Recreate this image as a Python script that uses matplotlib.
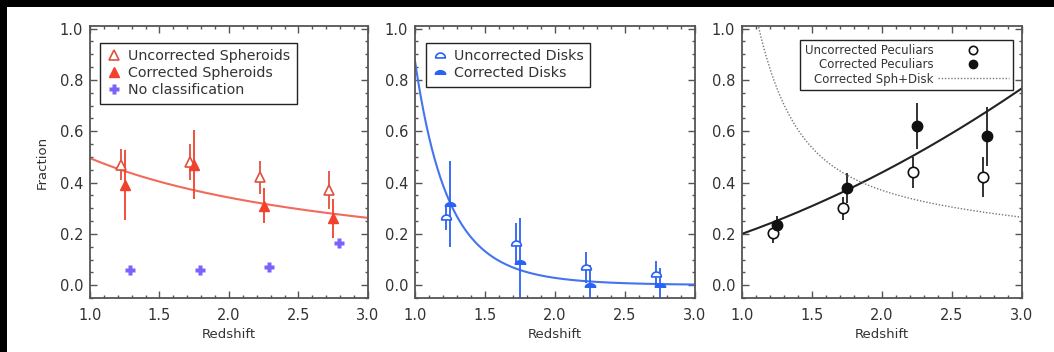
import matplotlib
matplotlib.use("Agg")
import matplotlib.pyplot as plt
import numpy as np
from matplotlib.patches import Rectangle
from matplotlib.path import Path

# redshift bins (each series is offset a little in z)
z_unc = [1.22, 1.72, 2.22, 2.72]
z_cor = [1.25, 1.75, 2.25, 2.75]
z_nocl = [1.29, 1.79, 2.29, 2.79]

# spheroids
sph_unc = [0.47, 0.48, 0.42, 0.37]
sph_unc_err = [0.06, 0.07, 0.065, 0.075]
sph_cor = [0.39, 0.47, 0.31, 0.26]
sph_cor_err = [0.135, 0.135, 0.067, 0.075]
no_class = [0.058, 0.061, 0.071, 0.165]

# disks
disk_unc = [0.264, 0.163, 0.069, 0.044]
disk_unc_err = [0.05, 0.08, 0.06, 0.05]
disk_cor = [0.315, 0.091, 0.0, 0.0]
disk_cor_err = [0.167, 0.17, 0.08, 0.065]

# peculiars
pec_unc = [0.204, 0.299, 0.44, 0.42]
pec_unc_err = [0.04, 0.045, 0.06, 0.078]
pec_cor = [0.234, 0.379, 0.62, 0.58]
pec_cor_err = [0.035, 0.06, 0.09, 0.115]

# power-law fits  f = norm * ((1+z)/2)**slope
sph_fit = (0.495, -0.916)
disk_fit = (0.873, -8.46)
pec_fit = (0.20, 1.94)

xticks = [1.0, 1.5, 2.0, 2.5, 3.0]
yticks = [0.0, 0.2, 0.4, 0.6, 0.8, 1.0]

RED = '#f3402c'
RED_OPEN = '#e0503e'
RED_LINE = '#f26a5c'
PURPLE = '#7a62fa'
BLUE = '#2a62f5'
BLUE_LINE = '#4474ee'
TXT = '#333333'
AXC = '#555555'


def powfit(z, p):
    return p[0] * ((1 + z) / 2.0) ** p[1]


def dome(flat=1.0):
    t = np.linspace(0, np.pi, 25)
    verts = np.column_stack([np.cos(t), flat * np.sin(t) - 0.5 * flat])
    verts = np.vstack([verts, verts[:1]])
    return Path(verts, closed=True)


plt.rcParams['font.family'] = 'DejaVu Sans'
plt.rcParams['text.color'] = TXT
plt.rcParams['axes.labelcolor'] = TXT
plt.rcParams['xtick.color'] = AXC
plt.rcParams['ytick.color'] = AXC
plt.rcParams['xtick.labelcolor'] = TXT
plt.rcParams['ytick.labelcolor'] = TXT

fig = plt.figure(figsize=(10.54, 3.52), dpi=100)
fig.patch.set_facecolor('black')
fig.add_artist(Rectangle((7 / 1054, 0), 1, 345 / 352, transform=fig.transFigure,
                         facecolor='white', edgecolor='none', zorder=-5))

W = 352.0
lefts = [90, 415, 742]
widths = [278, 280, 280]
axes = [fig.add_axes([l / 1054, 54 / W, w / 1054, 272 / W]) for l, w in zip(lefts, widths)]

zz = np.linspace(1.0, 3.0, 300)

for ax in axes:
    ax.set_xlim(1.0, 3.0)
    ax.set_ylim(-0.05, 1.01)
    ax.set_xticks(xticks)
    ax.set_yticks(yticks)
    ax.set_xticks(np.arange(1.0, 3.01, 0.1), minor=True)
    ax.set_yticks(np.arange(-0.05, 1.01, 0.05), minor=True)
    ax.set_xticklabels(['%.1f' % v for v in xticks])
    ax.set_yticklabels(['%.1f' % v for v in yticks])
    ax.tick_params(which='both', direction='in', top=True, right=True, labelsize=10.5)
    ax.tick_params(which='major', length=5, width=1)
    ax.tick_params(which='minor', length=2.5, width=1)
    ax.tick_params(axis='x', pad=7)
    ax.tick_params(axis='y', pad=5)
    for s in ax.spines.values():
        s.set_color(AXC)
        s.set_linewidth(1.3)
    ax.set_xlabel('Redshift', fontsize=9.5, labelpad=4)

legkw = dict(borderaxespad=0, handletextpad=0.4, fancybox=False, framealpha=1,
             edgecolor='#222222', numpoints=1)

# --- spheroids
ax = axes[0]
ax.plot(zz, powfit(zz, sph_fit), color=RED_LINE, lw=1.5)
ax.errorbar(z_unc, sph_unc, yerr=sph_unc_err, fmt='none', ecolor=RED_OPEN, elinewidth=1.3)
ax.errorbar(z_cor, sph_cor, yerr=sph_cor_err, fmt='none', ecolor=RED, elinewidth=1.3)
ax.plot(z_unc, sph_unc, ls='none', marker='^', ms=7.5, mfc='white', mec=RED_OPEN, mew=1.2,
        label='Uncorrected Spheroids')
ax.plot(z_cor, sph_cor, ls='none', marker='^', ms=7.5, color=RED, label='Corrected Spheroids')
ax.plot(z_nocl, no_class, ls='none', marker='P', ms=7, color=PURPLE, mec='none',
        label='No classification')
ax.set_ylabel('Fraction', fontsize=9.5, labelpad=8)
leg = ax.legend(loc='upper left', bbox_to_anchor=(0.036, 0.9375), fontsize=10.3,
                handlelength=1.1, labelspacing=0.2, borderpad=0.45, **legkw)
leg.get_frame().set_linewidth(1)

# --- disks
ax = axes[1]
ax.plot(zz, powfit(zz, disk_fit), color=BLUE_LINE, lw=1.5)
ax.errorbar(z_unc, disk_unc, yerr=disk_unc_err, fmt='none', ecolor=BLUE, elinewidth=1.3)
ax.errorbar(z_cor, disk_cor, yerr=disk_cor_err, fmt='none', ecolor=BLUE, elinewidth=1.3)
ax.plot(z_unc, disk_unc, ls='none', marker=dome(1.0), ms=7, mfc='white', mec=BLUE, mew=1.2,
        label='Uncorrected Disks')
ax.plot(z_cor, disk_cor, ls='none', marker=dome(0.7), ms=7.5, color=BLUE, mew=1.0,
        label='Corrected Disks')
leg = ax.legend(loc='upper left', bbox_to_anchor=(0.039, 0.9375), fontsize=10.3,
                handlelength=1.1, labelspacing=0.2, borderpad=0.45, **legkw)
leg.get_frame().set_linewidth(1)

# --- peculiars
ax = axes[2]
ax.plot(zz, powfit(zz, pec_fit), color='#222222', lw=1.5)
ax.errorbar(z_unc, pec_unc, yerr=pec_unc_err, fmt='none', ecolor='#222222', elinewidth=1.3)
ax.errorbar(z_cor, pec_cor, yerr=pec_cor_err, fmt='none', ecolor='#222222', elinewidth=1.3)
ax.plot(z_unc, pec_unc, ls='none', marker='o', ms=7.5, mfc='white', mec='#111111', mew=1.2,
        label='Uncorrected Peculiars')
ax.plot(z_cor, pec_cor, ls='none', marker='o', ms=7.5, color='#111111',
        label='Corrected Peculiars')
ax.plot(zz, powfit(zz, sph_fit) + powfit(zz, disk_fit), color='#777777', lw=1,
        ls=(0, (1, 1.3)), label='Corrected Sph+Disk')
leg = ax.legend(loc='upper right', bbox_to_anchor=(0.968, 0.9485), fontsize=8.5,
                handlelength=6, labelspacing=0.1, borderpad=0.35, markerfirst=False,
                markerscale=0.8, **legkw)
leg.get_frame().set_linewidth(1)

fig.savefig('out.png', dpi=100, facecolor=fig.get_facecolor())
